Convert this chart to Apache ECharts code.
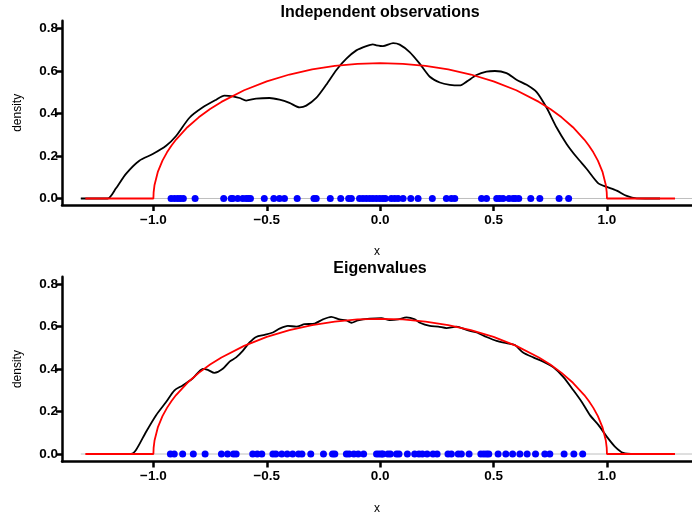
<!DOCTYPE html>
<html>
<head>
<meta charset="utf-8">
<script src="https://cdn.jsdelivr.net/npm/echarts@6/dist/echarts.min.js"></script>
<style>html,body{margin:0;padding:0;background:#fff}#c{width:692px;height:516px}</style>
</head>
<body>
<div id="c"></div>
<script>
// ---- data ----
var xTicks = [-1.0, -0.5, 0.0, 0.5, 1.0];
var yTicks = [0.0, 0.2, 0.4, 0.6, 0.8];

var topTitle = "Independent observations";
var botTitle = "Eigenvalues";

var topDensX = [-1.320,-1.202,-1.165,-1.121,-1.062,-1.003,-0.944,-0.900,-0.841,-0.782,-0.723,-0.687,-0.650,-0.620,-0.591,-0.547,-0.488,-0.444,-0.400,-0.355,-0.326,-0.282,-0.238,-0.193,-0.149,-0.105,-0.061,-0.032,-0.017,0.012,0.057,0.086,0.130,0.174,0.219,0.263,0.307,0.351,0.381,0.425,0.469,0.506,0.557,0.601,0.646,0.690,0.734,0.778,0.822,0.866,0.910,0.962,0.999,1.043,1.087,1.131,1.234];
var topDensY = [0,0,0.048,0.116,0.178,0.209,0.248,0.294,0.380,0.429,0.465,0.484,0.481,0.473,0.461,0.470,0.473,0.465,0.450,0.429,0.437,0.473,0.535,0.605,0.658,0.697,0.717,0.725,0.721,0.717,0.731,0.724,0.689,0.635,0.573,0.546,0.535,0.532,0.550,0.581,0.597,0.600,0.590,0.559,0.535,0.501,0.427,0.334,0.257,0.195,0.140,0.071,0.055,0.037,0.012,0.001,0];

var botDensX = [-1.158,-1.099,-1.076,-1.032,-0.988,-0.944,-0.907,-0.871,-0.826,-0.782,-0.760,-0.731,-0.694,-0.664,-0.635,-0.606,-0.576,-0.547,-0.510,-0.473,-0.444,-0.407,-0.370,-0.333,-0.289,-0.252,-0.216,-0.179,-0.149,-0.127,-0.098,-0.046,0.005,0.042,0.079,0.116,0.153,0.175,0.219,0.256,0.292,0.337,0.381,0.425,0.469,0.513,0.557,0.594,0.630,0.675,0.719,0.764,0.808,0.852,0.889,0.925,0.962,0.999,1.035,1.072,1.124];
var botDensY = [0,0,0.020,0.105,0.183,0.245,0.300,0.323,0.357,0.401,0.396,0.382,0.401,0.435,0.455,0.486,0.525,0.551,0.561,0.572,0.590,0.603,0.600,0.611,0.614,0.634,0.646,0.634,0.629,0.618,0.629,0.637,0.640,0.631,0.634,0.643,0.634,0.618,0.603,0.600,0.593,0.600,0.584,0.572,0.551,0.533,0.522,0.513,0.478,0.455,0.435,0.408,0.362,0.300,0.245,0.183,0.137,0.082,0.035,0.005,0];

var semiX = [-1.3,-1.0,-0.999,-0.995,-0.98,-0.96,-0.94,-0.92,-0.9,-0.85,-0.8,-0.75,-0.7,-0.6,-0.5,-0.4,-0.3,-0.2,-0.1,0,0.1,0.2,0.3,0.4,0.5,0.6,0.7,0.75,0.8,0.85,0.9,0.92,0.94,0.96,0.98,0.995,0.999,1.0,1.3];
var semiY = [0,0,0.0285,0.0636,0.1267,0.1783,0.2172,0.2495,0.2775,0.3354,0.3820,0.4211,0.4546,0.5093,0.5513,0.5835,0.6073,0.6237,0.6334,0.6366,0.6334,0.6237,0.6073,0.5835,0.5513,0.5093,0.4546,0.4211,0.3820,0.3354,0.2775,0.2495,0.2172,0.1783,0.1267,0.0636,0.0285,0,0];

var topObs = [-0.922,-0.907,-0.893,-0.881,-0.868,-0.816,-0.690,-0.657,-0.650,-0.628,-0.606,-0.591,-0.581,-0.572,-0.511,-0.469,-0.444,-0.422,-0.366,-0.292,-0.282,-0.220,-0.174,-0.139,-0.127,-0.091,-0.076,-0.061,-0.046,-0.032,-0.017,-0.002,0.012,0.023,0.049,0.064,0.079,0.101,0.135,0.167,0.230,0.292,0.314,0.329,0.447,0.469,0.514,0.527,0.542,0.568,0.586,0.596,0.611,0.664,0.704,0.789,0.831];
var botEig = [-0.925,-0.908,-0.871,-0.824,-0.772,-0.700,-0.673,-0.647,-0.635,-0.562,-0.542,-0.522,-0.473,-0.460,-0.434,-0.410,-0.386,-0.360,-0.345,-0.306,-0.250,-0.210,-0.200,-0.149,-0.137,-0.116,-0.097,-0.073,-0.016,-0.005,0.006,0.012,0.034,0.045,0.072,0.083,0.120,0.152,0.171,0.186,0.207,0.233,0.251,0.299,0.314,0.344,0.358,0.392,0.444,0.457,0.469,0.479,0.520,0.554,0.584,0.616,0.648,0.685,0.726,0.748,0.811,0.854,0.893];

var zeroLineTop = [-1.32, 1.40];
var zeroLineBot = [-1.32, 1.40];

// ---- build ----
function zip(xs, ys){var o=[];for(var i=0;i<Math.min(xs.length,ys.length);i++)o.push([xs[i],ys[i]]);return o;}
function rug(xs){return xs.map(function(v){return [v,0];});}
var FONT = '"Liberation Sans", Arial, Helvetica, sans-serif';

function xAxisFor(gi){
  return {
    type:'value', gridIndex:gi, min:-1.403, max:1.375,
    splitLine:{show:false},
    axisLine:{show:true, onZero:false, lineStyle:{color:'#000', width:2.5}},
    axisTick:{show:true, inside:false, customValues:xTicks, length:6, lineStyle:{color:'#000', width:2.5}},
    axisLabel:{show:true, customValues:xTicks, color:'#000', fontWeight:'bold', fontSize:13.5, fontFamily:FONT, margin:8,
      formatter:function(v){return v.toFixed(1).replace('-','\u2212');}},
    name:'x', nameLocation:'middle', nameGap:41,
    nameTextStyle:{color:'#000', fontSize:12, fontFamily:FONT}
  };
}
function yAxisFor(gi, mn, mx){
  return {
    type:'value', gridIndex:gi, min:mn, max:mx,
    splitLine:{show:false},
    axisLine:{show:true, onZero:false, lineStyle:{color:'#000', width:2.5}},
    axisTick:{show:true, inside:false, customValues:yTicks, length:6, lineStyle:{color:'#000', width:2.5}},
    axisLabel:{show:true, customValues:yTicks, color:'#000', fontWeight:'bold', fontSize:13.5, fontFamily:FONT, margin:4,
      formatter:function(v){return v.toFixed(1);}},
    name:'density', nameLocation:'middle', nameRotate:90, nameGap:38,
    nameTextStyle:{color:'#000', fontSize:12, fontFamily:FONT}
  };
}
function seriesFor(gi, zeroLine, dx, dy, obs){
  return [
    {type:'line', xAxisIndex:gi, yAxisIndex:gi, data:[[zeroLine[0],0],[zeroLine[1],0]], showSymbol:false, silent:true,
     lineStyle:{color:'#bebebe', width:1}, z:1},
    {type:'line', xAxisIndex:gi, yAxisIndex:gi, data:zip(dx,dy), showSymbol:false, smooth:0.25,
     lineStyle:{color:'#000', width:1.8}, z:2},
    {type:'line', xAxisIndex:gi, yAxisIndex:gi, data:zip(semiX,semiY), showSymbol:false, smooth:false,
     lineStyle:{color:'#ff0000', width:1.8}, z:3},
    {type:'scatter', xAxisIndex:gi, yAxisIndex:gi, data:rug(obs), symbol:'circle', symbolSize:7,
     itemStyle:{color:'#0000ff', opacity:1}, z:4}
  ];
}

var chart = echarts.init(document.getElementById('c'), null, {renderer:'canvas'});
chart.setOption({
  animation:false,
  backgroundColor:'#fff',
  grid:[
    {left:62, top:20.7, width:630, height:184.3, containLabel:false},
    {left:62, top:276.7, width:630, height:184.8, containLabel:false}
  ],
  xAxis:[xAxisFor(0), xAxisFor(1)],
  yAxis:[yAxisFor(0,-0.0306,0.8367), yAxisFor(1,-0.0353,0.8348)],
  graphic:[
    {type:'text', x:380, y:13, style:{text:topTitle, fill:'#000', font:'bold 16px '+FONT, textAlign:'center', textVerticalAlign:'middle'}},
    {type:'text', x:380, y:269, style:{text:botTitle, fill:'#000', font:'bold 16px '+FONT, textAlign:'center', textVerticalAlign:'middle'}}
  ],
  series: seriesFor(0, zeroLineTop, topDensX, topDensY, topObs).concat(seriesFor(1, zeroLineBot, botDensX, botDensY, botEig))
});
</script>
</body>
</html>
